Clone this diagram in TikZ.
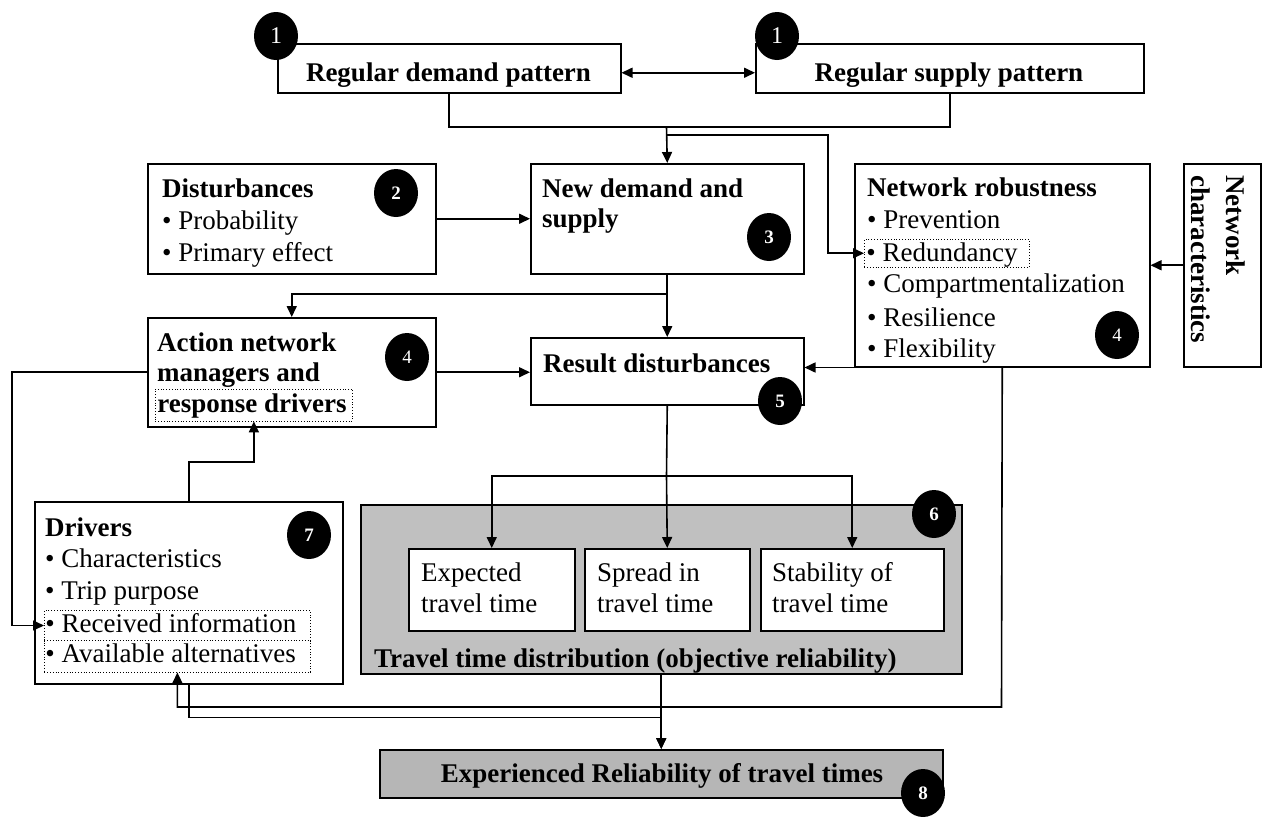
\documentclass[tikz,border=0pt]{standalone}
\usepackage{fontspec}
\setmainfont{Liberation Serif}
\usetikzlibrary{arrows.meta,shapes.geometric}
\definecolor{greyA}{RGB}{192,192,192}
\definecolor{greyB}{RGB}{182,182,182}
\begin{document}
\begin{tikzpicture}[x=1pt,y=-1pt,
  every node/.style={font=\fontsize{27}{32}\selectfont},
  box/.style={draw, line width=1.5pt, inner sep=0pt, anchor=north west, fill=white},
  txt/.style={inner sep=0pt, anchor=base west},
  dotbox/.style={draw, dotted, line width=0.8pt, anchor=base west},
  num/.style={ellipse, fill=black, text=white, minimum width=44pt, minimum height=48pt, inner sep=0pt, font=\fontsize{19}{19}\selectfont\bfseries},
  numr/.style={num, font=\fontsize{19}{19}\selectfont},
  conn/.style={line width=1.6pt},
  arr/.style={conn, -{Triangle[length=11pt,width=10pt]}},
  darr/.style={conn, {Triangle[length=11pt,width=10pt]}-{Triangle[length=11pt,width=10pt]}}
]
\useasboundingbox (0,0) rectangle (1262,817);

% boxes
\node[box, minimum width=343pt, minimum height=49pt] (dem) at (277,43) {};
\node[box, minimum width=388pt, minimum height=49pt] (sup) at (755,43) {};
\node[box, minimum width=288pt, minimum height=110pt] (dist) at (147,163) {};
\node[box, minimum width=273pt, minimum height=110pt] (nds) at (530,163) {};
\node[box, minimum width=295pt, minimum height=203pt] (rob) at (854,163) {};
\node[box, minimum width=77pt, minimum height=203pt] (char) at (1183,163) {};
\node[box, minimum width=288pt, minimum height=109pt] (act) at (147,317) {};
\node[box, minimum width=273pt, minimum height=67pt] (res) at (530,337) {};
\node[box, minimum width=308pt, minimum height=182pt] (drv) at (34,501) {};
\node[box, fill=greyA, minimum width=601pt, minimum height=169pt] (ttd) at (360,504) {};
\node[box, minimum width=166pt, minimum height=82pt] (b1) at (408,548) {};
\node[box, minimum width=165pt, minimum height=82pt] (b2) at (584,548) {};
\node[box, minimum width=183pt, minimum height=82pt] (b3) at (760,548) {};
\node[box, fill=greyB, minimum width=563pt, minimum height=48pt] (exp) at (379,749) {};

% texts
\node[inner sep=0pt, anchor=base] (tdem) at (448.5,81) {\textbf{Regular demand pattern}};
\node[inner sep=0pt, anchor=base] (tsup) at (949,81) {\textbf{Regular supply pattern}};

\node[txt] (tdist) at (162,197) {\textbf{Disturbances}};
\node[txt] (tdist1) at (162,229) {• Probability};
\node[txt] (tdist2) at (162,261) {• Primary effect};

\node[txt] (tnds1) at (542,197) {\textbf{New demand and}};
\node[txt] (tnds2) at (542,227) {\textbf{supply}};

\node[txt] (trob) at (867,196) {\textbf{Network robustness}};
\node[txt] (trob1) at (867,228) {• Prevention};
\node[dotbox, inner xsep=2pt, inner ysep=2.5pt, text height=19pt, text depth=3.5pt] (red) at (864,261) {\makebox[161pt][l]{• Redundancy}};
\node[txt] (trob3) at (867,292) {• Compartmentalization};
\node[txt] (trob4) at (867,326) {• Resilience};
\node[txt] (trob5) at (867,357) {• Flexibility};

\node[txt, rotate=-90] (tchar1) at (1226,175) {\textbf{Network}};
\node[txt, rotate=-90] (tchar2) at (1191,175) {\textbf{characteristics}};

\node[txt] (tact1) at (157,351) {\textbf{Action network}};
\node[txt] (tact2) at (157,381) {\textbf{managers and}};
\node[dotbox, inner xsep=2pt, inner ysep=3pt, text height=20pt, text depth=6pt] (rd) at (155,412) {\makebox[193pt][l]{\textbf{response drivers}}};

\node[txt] (tres) at (543,372) {\textbf{Result disturbances}};

\node[txt] (tdrv) at (45,536) {\textbf{Drivers}};
\node[txt] (tdrv1) at (45,567) {• Characteristics};
\node[txt] (tdrv2) at (45,599) {• Trip purpose};
\node[dotbox, inner xsep=1pt, inner ysep=2.5pt, text height=19pt, text depth=6pt] (recv) at (44,632) {\makebox[264pt][l]{• Received information}};
\node[dotbox, inner xsep=1pt, inner ysep=2.5pt, text height=19pt, text depth=7.5pt] (avail) at (44,662) {\makebox[264pt][l]{• Available alternatives}};

\node[txt] (tb1a) at (421,581) {Expected};
\node[txt] (tb1b) at (421,612) {travel time};
\node[txt] (tb2a) at (597,581) {Spread in};
\node[txt] (tb2b) at (597,612) {travel time};
\node[txt] (tb3a) at (772,581) {Stability of};
\node[txt] (tb3b) at (772,612) {travel time};

\node[txt] (tttd) at (374,667) {\textbf{Travel time distribution (objective reliability)}};
\node[inner sep=0pt, anchor=base] (texp) at (662,782) {\textbf{Experienced Reliability of travel times}};

% junction coordinates
\coordinate (j1) at (666.5,127);
\coordinate (j2) at (666.5,135);
\coordinate (j3) at (666.5,294);
\coordinate (j4) at (666.5,476);
\coordinate (j5) at (1001.5,707);

% connectors
\draw[darr] ([yshift=-4.5pt]dem.east) -- ([yshift=-4.5pt]sup.west);
\draw[conn] (dem.south) |- (j1) -| (sup.south);
\draw[arr] (j1) -- (nds.north);
\draw[arr] (j2) -- ++(161.5,0) |- (red.west);
\draw[arr] (dist.east) -- (nds.west);
\draw[arr] (nds.south) -- (res.north);
\draw[arr] (j3) -| (act.north);
\draw[arr] (act.east) -- (act.east -| res.west);
\draw[arr] (rob.south west) -- (rob.south west -| res.east);
\draw[arr] (char.west) -- (char.west -| rob.east);
\draw[arr] (act.west) -- ++(-135,0) |- (recv.west);
\draw[arr] (drv.north) -- ++(0,-39) -| (rd.south);
\draw[conn] (res.south) -- (j4);
\draw[arr] (j4) -| (b1.north);
\draw[arr] (j4) -- (b2.north);
\draw[arr] (j4) -| (b3.north);
\draw[arr] (ttd.south) -- (ttd.south |- exp.north);
\draw[arr] (rob.south) -- (j5) -| (avail.south);
\draw[arr] (drv.south) -- ++(0,33) -| (ttd.south |- exp.north);

% number markers
\node[numr, font=\fontsize{24}{24}\selectfont] (n1a) at (276,36) {1};
\node[numr, font=\fontsize{24}{24}\selectfont] (n1b) at (777,36) {1};
\node[num] (n2) at (396,193) {2};
\node[num] (n3) at (769,237) {3};
\node[numr] (n4a) at (1117,335) {4};
\node[numr] (n4b) at (407,357) {4};
\node[num] (n5) at (780,401) {5};
\node[num] (n6) at (934,514) {6};
\node[num] (n7) at (309,535) {7};
\node[num] (n8) at (923,793) {8};
\end{tikzpicture}
\end{document}
